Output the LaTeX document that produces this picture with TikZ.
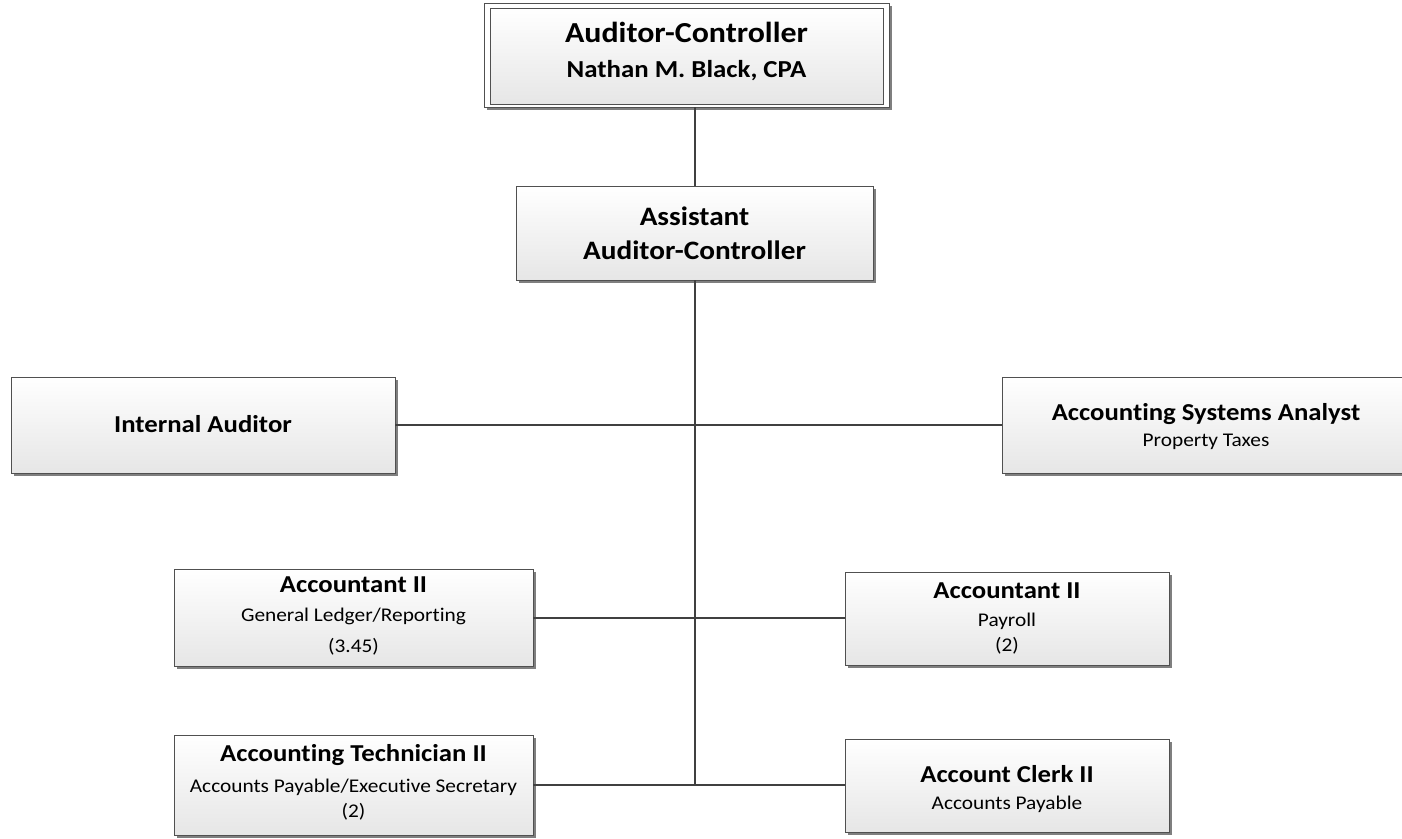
\documentclass[tikz,border=0pt]{standalone}
\usepackage{fontspec}
\setmainfont{Carlito}[FakeStretch=1.1, Ligatures=NoCommon]
\usetikzlibrary{shadows,calc}

\definecolor{boxline}{HTML}{505050}
\definecolor{boxbot}{HTML}{E6E6E6}
\definecolor{shadowgray}{HTML}{7F7F7F}
\definecolor{linkline}{HTML}{404040}

\tikzset{
  orgbox/.style={draw=boxline, line width=0.8pt, top color=white, bottom color=boxbot,
    inner sep=0pt,
    drop shadow={shadow xshift=3pt, shadow yshift=-3pt, fill=shadowgray, opacity=1}},
  outerframe/.style={draw=boxline, line width=0.8pt, fill=white, inner sep=0pt,
    drop shadow={shadow xshift=3pt, shadow yshift=-3pt, fill=shadowgray, opacity=1}},
  innerbox/.style={draw=boxline, line width=0.8pt, top color=white, bottom color=boxbot,
    inner sep=0pt},
  link/.style={draw=linkline, line width=2pt},
  boxtext/.style={anchor=base, inner sep=0pt, text=black},
  headtitle/.style={boxtext, font=\fontsize{29}{34}\selectfont\bfseries},
  personname/.style={boxtext, font=\fontsize{24.4}{29}\selectfont\bfseries},
  asstitle/.style={boxtext, font=\fontsize{26.6}{32}\selectfont\bfseries},
  roletitle/.style={boxtext, font=\fontsize{24.3}{29}\selectfont\bfseries},
  roledetail/.style={boxtext, font=\fontsize{19.4}{23}\selectfont}
}

\begin{document}
\begin{tikzpicture}[x=1pt,y=-1pt]
\useasboundingbox (0,0) rectangle (1402,838);
\clip (0,0) rectangle (1402,838);

% boxes
\node[outerframe, minimum width=405pt, minimum height=104pt] (headframe) at (686.5,55) {};
\node[innerbox, minimum width=393pt, minimum height=96pt] (head) at (686.5,56) {};
\node[orgbox, minimum width=357pt, minimum height=94pt] (asst) at (694.5,233) {};
\node[orgbox, minimum width=384pt, minimum height=96pt] (ia) at (203,425) {};
\node[orgbox, minimum width=408pt, minimum height=96pt] (asa) at (1206,425) {};
\node[orgbox, minimum width=359pt, minimum height=97pt] (gl) at (353.5,617.5) {};
\node[orgbox, minimum width=324pt, minimum height=93pt] (pay) at (1007,618.5) {};
\node[orgbox, minimum width=359pt, minimum height=100pt] (tech) at (353.5,785) {};
\node[orgbox, minimum width=324pt, minimum height=93pt] (clerk) at (1007,785.5) {};

% box texts, placed by baseline below each box's top edge
\node[headtitle]  (head-a) at ($(headframe.north)+(0,40)$) {Auditor-Controller};
\node[personname] (head-b) at ($(headframe.north)+(0,75)$) {Nathan M. Black, CPA};

\node[asstitle] (asst-a) at ($(asst.north)+(0,40)$) {Assistant};
\node[asstitle] (asst-b) at ($(asst.north)+(0,74)$) {Auditor-Controller};

\node[roletitle]  (ia-a) at ($(ia.north)+(0,56)$) {Internal Auditor};

\node[roletitle]  (asa-a) at ($(asa.north)+(0,44)$) {Accounting Systems Analyst};
\node[roledetail] (asa-b) at ($(asa.north)+(0,70)$) {Property Taxes};

\node[roletitle]  (gl-a) at ($(gl.north)+(0,24)$) {Accountant II};
\node[roledetail] (gl-b) at ($(gl.north)+(0,53)$) {General Ledger/Reporting};
\node[roledetail] (gl-c) at ($(gl.north)+(0,84)$) {(3.45)};

\node[roletitle]  (pay-a) at ($(pay.north)+(0,27)$) {Accountant II};
\node[roledetail] (pay-b) at ($(pay.north)+(0,55)$) {Payroll};
\node[roledetail] (pay-c) at ($(pay.north)+(0,80)$) {(2)};

\node[roletitle]  (tech-a) at ($(tech.north)+(0,27)$) {Accounting Technician II};
\node[roledetail] (tech-b) at ($(tech.north)+(0,58)$) {Accounts Payable/Executive Secretary};
\node[roledetail] (tech-c) at ($(tech.north)+(0,83)$) {(2)};

\node[roletitle]  (clerk-a) at ($(clerk.north)+(0,44)$) {Account Clerk II};
\node[roledetail] (clerk-b) at ($(clerk.north)+(0,71)$) {Accounts Payable};

% reporting lines
\coordinate (trunk) at (asst.south |- tech.east);
\draw[link] (headframe.south -| asst.north) -- (asst.north);
\draw[link] (asst.south) -- (trunk);
\draw[link] (ia.east) -- (asa.west);
\draw[link] (gl.east) -- (gl.east -| pay.west);
\draw[link] (tech.east) -- (tech.east -| clerk.west);
\end{tikzpicture}
\end{document}
